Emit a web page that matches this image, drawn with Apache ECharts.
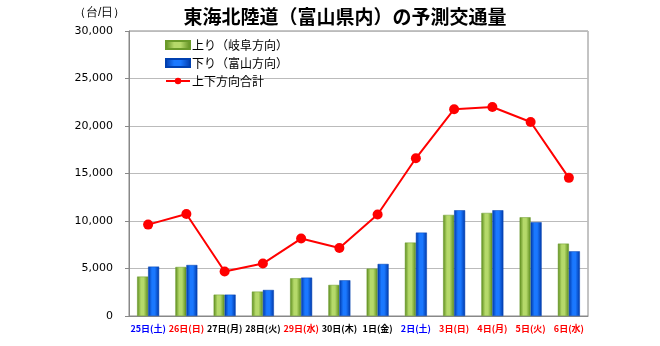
<!DOCTYPE html>
<html><head><meta charset="utf-8">
<script src="https://cdn.jsdelivr.net/npm/echarts@6/dist/echarts.min.js"></script>
<style>html,body{margin:0;padding:0;background:#fff}#c{width:660px;height:346px}</style>
</head><body><div id="c"></div>
<script>
const categories = ['25日(土)','26日(日)','27日(月)','28日(火)','29日(水)','30日(木)','1日(金)','2日(土)','3日(日)','4日(月)','5日(火)','6日(水)'];
const labelColors = ['#0000ff','#ff0000','#000','#000','#ff0000','#000','#000','#0000ff','#ff0000','#ff0000','#ff0000','#ff0000'];
const upValues = [4150,5160,2250,2570,3970,3270,4990,7730,10640,10850,10390,7620];
const downValues = [5200,5370,2250,2740,4040,3760,5480,8780,11130,11130,9870,6810];
const totalValues = [9620,10740,4680,5520,8150,7160,10680,16600,21770,22000,20420,14540];
const seriesNames = ['上り（岐阜方向）','下り（富山方向）','上下方向合計'];

const chart = echarts.init(document.getElementById('c'));
function grad(dark, light){
  return new echarts.graphic.LinearGradient(0,0,1,0,[
    {offset:0,color:dark},{offset:0.35,color:light},{offset:0.6,color:light},{offset:1,color:dark}]);
}
const rich = {};
labelColors.forEach((c,i)=>{ rich['c'+i] = {color:c, fontSize:9, fontWeight:'bold', fontFamily:'Noto Sans CJK JP'}; });
chart.setOption({
  animation:false,
  backgroundColor:'#fff',
  title:{text:'東海北陸道（富山県内）の予測交通量', left:340, textAlign:'center', top:2,
    textStyle:{fontSize:19, fontWeight:'bold', color:'#000', fontFamily:'Noto Sans CJK JP'}},
  graphic:[{type:'text', left:74, top:7, style:{text:'（台/日）', fontSize:12, fill:'#000', font:'12px "Noto Sans CJK JP"'}}],
  legend:{orient:'vertical', left:160, top:34, itemGap:6, itemWidth:24, itemHeight:8,
    textStyle:{fontSize:12, color:'#000', fontFamily:'Noto Sans CJK JP', padding:[0,0,0,-3]},
    data:[{name:seriesNames[0], icon:'rect'},{name:seriesNames[1], icon:'rect'},{name:seriesNames[2]}]},
  grid:{left:129, right:72, top:31, bottom:30, show:true, borderColor:'#888', borderWidth:1, backgroundColor:'transparent'},
  xAxis:{type:'category', data:categories,
    axisLine:{lineStyle:{color:'#888'}}, axisTick:{show:false},
    axisLabel:{interval:0, margin:8, formatter:(v,i)=>'{c'+i+'|'+v+'}', rich:rich}},
  yAxis:{type:'value', min:0, max:30000, interval:5000,
    axisLine:{show:true, lineStyle:{color:'#888'}}, axisTick:{show:true, length:4, inside:false, lineStyle:{color:'#888'}},
    splitLine:{lineStyle:{color:'#bbb'}},
    axisLabel:{fontSize:11, color:'#000', margin:16, fontFamily:'DejaVu Sans', formatter:v=>v.toLocaleString('en-US')}},
  series:[
    {name:seriesNames[0], type:'bar', data:upValues, barWidth:11, barGap:'0%',
      itemStyle:{color:grad('#5a8a1c','#b5d96a'), borderColor:'#6a9a2a', borderWidth:0.5}},
    {name:seriesNames[1], type:'bar', data:downValues, barWidth:11,
      itemStyle:{color:grad('#0038a8','#1a78ff'), borderColor:'#0040b0', borderWidth:0.5}},
    {name:seriesNames[2], type:'line', data:totalValues, symbol:'circle', symbolSize:10,
      lineStyle:{color:'#ff0000', width:2}, itemStyle:{color:'#ff0000'}, z:5}
  ]
});
</script></body></html>
